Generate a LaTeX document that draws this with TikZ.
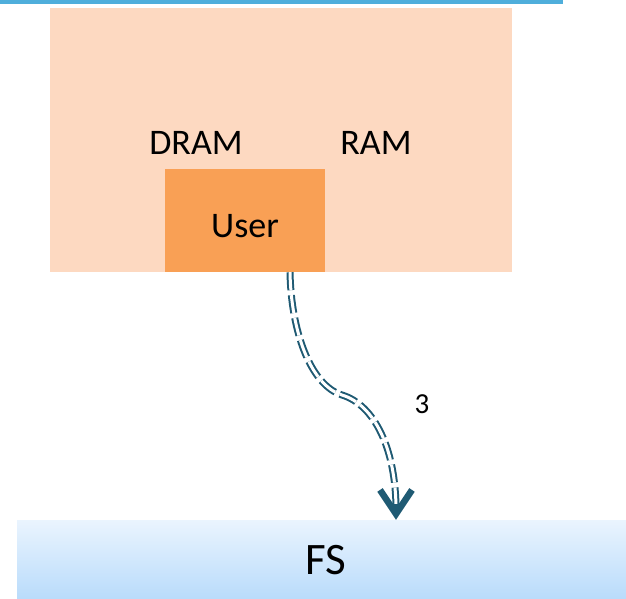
\documentclass[tikz,border=0pt]{standalone}
\usepackage{fontspec}
\setmainfont{Carlito}
\usepackage{xcolor}
\usetikzlibrary{arrows.meta,calc}
\definecolor{ramfill}{RGB}{253,217,193}
\definecolor{userfill}{RGB}{249,160,85}
\definecolor{topline}{RGB}{79,174,219}
\definecolor{flowcol}{RGB}{31,90,115}
\definecolor{fstop}{RGB}{234,244,254}
\definecolor{fsbot}{RGB}{184,219,251}

\begin{document}
\begin{tikzpicture}[x=1pt, y=-1pt, every node/.style={font=\fontsize{36}{43}\selectfont, inner sep=0pt}, ram/.style={fill=ramfill, minimum width=462pt, minimum height=264pt}, user/.style={fill=userfill, minimum width=160pt, minimum height=103pt, text height=33pt, text depth=0pt}, fs/.style={top color=fstop, bottom color=fsbot, minimum width=618pt, minimum height=80pt, font=\fontsize{45}{54}\selectfont}, flow/.style={draw=flowcol, line width=2pt, double=white, double distance=3pt, dash pattern=on 18pt off 5pt}, head/.style={draw=flowcol, line width=6pt, -{Straight Barb[length=24pt, width=32pt, line width=6.5pt]}}]
\useasboundingbox (0,0) rectangle (626,598);
\fill[topline] (0,0) rectangle (563,4);
\node[ram] (mem) at (281,140) {};
\node (dram) at (196,143) {DRAM};
\node (rampart) at (376,143) {RAM};
\node[user] (user) at (245,220.5) {User};
\node[fs] (fs) at (326,560) {FS};
\node[font=\fontsize{29}{34}\selectfont] (step3) at (422,404) {3};
\coordinate (src) at ($(user.south)+(45,0)$);
\coordinate (bend) at (342,395);
\coordinate (tip) at ($(fs.north)+(70,0)$);
\draw[flow] (src) .. controls (291,330) and (310,385) .. (bend) .. controls (375,405) and (396,450) .. ($(tip)+(0,-10)$);
\draw[head] ($(tip)+(0,-16)$) -- (tip);
\end{tikzpicture}
\end{document}
